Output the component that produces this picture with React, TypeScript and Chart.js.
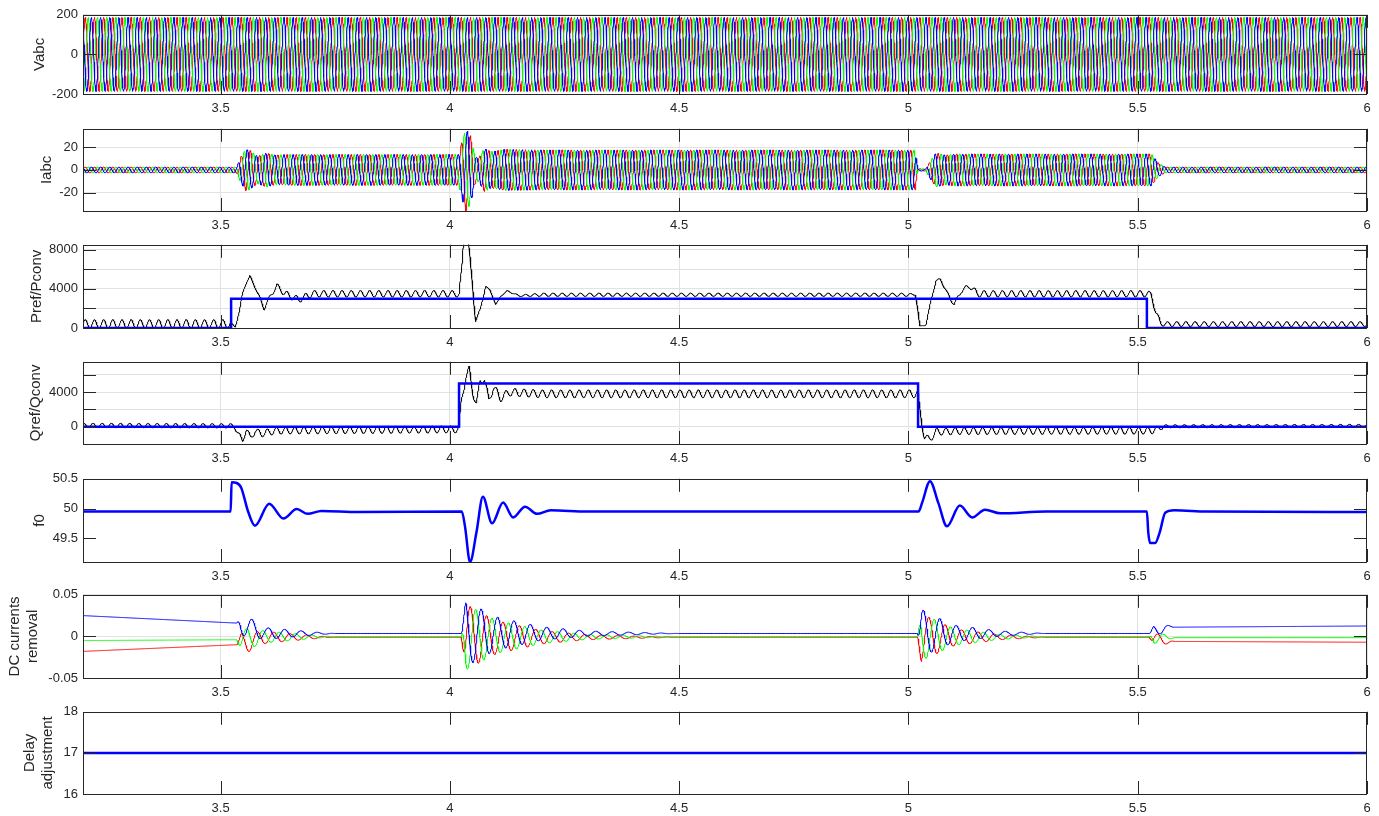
import React, { useEffect, useRef } from 'react';
import { Chart, registerables } from 'chart.js';
Chart.register(...registerables);

// ---------- axis / layout constants ----------
const T_START = 3.2;
const T_END = 6;
const DT = 0.0005;
const GRID_FREQ = 50;
const DC_OSC_FREQ = 28;
const xTickValues = [3.5, 4, 4.5, 5, 5.5, 6];

// ---------- data ----------
// Vabc envelope
const vabcEnvT = [3.2, 6];
const vabcEnvA = [187, 187];

// Iabc envelope
const iabcEnvT = [3.2, 3.535, 3.545, 3.555, 3.565, 3.58, 3.6, 3.62, 3.65, 4.02, 4.026, 4.035, 4.045, 4.055, 4.062, 4.075, 4.09, 4.12, 4.2, 5.015, 5.02, 5.038, 5.048, 5.06, 5.08, 5.1, 5.53, 5.545, 5.56, 6];
const iabcEnvA = [2.5, 2.5, 12, 18, 17, 12, 15, 13, 13.5, 13.5, 25, 36, 30, 12, 10, 19, 16, 18, 17.5, 17.5, 1, 1, 8, 15, 13, 14, 14, 6, 2.5, 2.5];

// Pref (step) and Pconv
const prefT = [3.2, 3.523, 3.523, 5.52, 5.52, 6];
const prefV = [0, 0, 3000, 3000, 0, 0];
const pconvT = [3.2, 3.52, 3.525, 3.532, 3.54, 3.548, 3.556, 3.564, 3.575, 3.595, 3.61, 3.623, 3.638, 3.65, 3.67, 3.7, 4.02, 4.026, 4.03, 4.04, 4.048, 4.056, 4.066, 4.078, 4.088, 4.1, 4.11, 4.125, 4.15, 4.2, 5.015, 5.02, 5.025, 5.038, 5.05, 5.06, 5.07, 5.085, 5.1, 5.115, 5.134, 5.15, 5.18, 5.52, 5.53, 5.54, 5.55, 5.56, 6];
const pconvV = [400, 400, 100, 200, 1500, 3600, 4600, 5300, 4200, 2000, 3400, 4300, 3600, 3300, 2900, 3500, 3500, 6000, 8800, 9000, 5000, 800, 1800, 4300, 3800, 2400, 3200, 3800, 3300, 3400, 3400, 2000, 200, 300, 3000, 4800, 5000, 3500, 2400, 3800, 4300, 3500, 3500, 3500, 3400, 1500, 500, 400, 400];
const pconvRipT = [3.2, 3.52, 3.54, 3.65, 4.02, 4.1, 4.2, 5.0, 5.02, 5.15, 5.52, 5.56, 6];
const pconvRipA = [450, 450, 0, 330, 330, 0, 170, 170, 0, 320, 320, 250, 250];

// Qref (step) and Qconv
const qrefT = [3.2, 4.02, 4.02, 5.021, 5.021, 6];
const qrefV = [0, 0, 5000, 5000, 0, 0];
const qconvT = [3.2, 3.53, 3.538, 3.548, 3.556, 3.565, 3.575, 3.59, 3.62, 4.02, 4.025, 4.035, 4.042, 4.05, 4.058, 4.066, 4.075, 4.085, 4.095, 4.11, 4.13, 4.2, 5.02, 5.026, 5.035, 5.045, 5.06, 5.1, 5.53, 5.56, 6];
const qconvV = [150, 100, -800, -1600, -300, -1300, -500, -800, -450, -300, 3000, 5800, 6600, 4000, 2600, 5200, 5600, 3000, 4600, 3300, 4000, 3800, 3800, 1500, -1200, -1500, -600, -500, -450, 50, 100];
const qconvRipT = [3.2, 3.53, 3.6, 4.02, 4.1, 5.02, 5.06, 5.53, 5.56, 6];
const qconvRipA = [250, 250, 400, 400, 450, 450, 400, 400, 180, 180];

// f0
const f0T = [3.2, 3.522, 3.524, 3.535, 3.545, 3.56, 3.575, 3.606, 3.637, 3.666, 3.69, 3.72, 3.8, 4.026, 4.033, 4.044, 4.058, 4.072, 4.092, 4.116, 4.138, 4.164, 4.19, 4.22, 4.3, 5.022, 5.03, 5.047, 5.065, 5.084, 5.112, 5.139, 5.167, 5.2, 5.3, 5.52, 5.523, 5.527, 5.538, 5.548, 5.56, 5.58, 5.65, 6];
const f0V = [49.95, 49.95, 50.44, 50.43, 50.35, 49.95, 49.71, 50.08, 49.83, 49.99, 49.91, 49.96, 49.94, 49.95, 49.7, 49.1, 49.6, 50.2, 49.75, 50.1, 49.85, 50.03, 49.91, 49.97, 49.95, 49.95, 50.1, 50.46, 50.1, 49.7, 50.05, 49.85, 49.98, 49.92, 49.95, 49.95, 49.6, 49.42, 49.42, 49.6, 49.93, 49.97, 49.95, 49.94];

// DC currents removal
const dcBaseT = [3.2, 3.535, 3.6, 5.53, 5.56, 6];
const dcRedV = [-0.018, -0.010, -0.001, -0.001, -0.006, -0.007];
const dcGreenV = [-0.005, -0.004, -0.0005, -0.0005, -0.0015, -0.0015];
const dcBlueV = [0.025, 0.016, 0.0035, 0.0035, 0.011, 0.0125];
const dcOscT = [3.2, 3.535, 3.545, 3.56, 3.6, 3.7, 3.75, 4.025, 4.035, 4.05, 4.1, 4.2, 4.3, 4.5, 5.02, 5.028, 5.04, 5.1, 5.2, 5.3, 5.525, 5.535, 5.545, 5.58, 6];
const dcOscA = [0, 0, 0.012, 0.012, 0.007, 0.002, 0, 0, 0.04, 0.035, 0.02, 0.008, 0.003, 0, 0, 0.03, 0.025, 0.01, 0.003, 0, 0, 0.008, 0.006, 0, 0];

// Delay adjustment
const delayT = [3.2, 6];
const delayV = [17, 17];

// ---------- styling ----------
const FONT = '"Liberation Sans", Arial, Helvetica, sans-serif';
const AXIS_COLOR = '#262626';
const GRID_COLOR = '#e2e2e2';
const RED = '#ff0000';
const GREEN = '#00ff00';
const BLUE = '#0000ff';
const PAD_T = 12;
const XAX_H = 28;
const Y_W = 83;
const TICK_LEN = 13;

type Pt = { x: number; y: number };

function interp(ts: number[], vs: number[], t: number): number {
  if (t <= ts[0]) return vs[0];
  for (let i = 1; i < ts.length; i++) {
    if (t <= ts[i]) {
      const span = ts[i] - ts[i - 1];
      if (span <= 0) return vs[i];
      const f = (t - ts[i - 1]) / span;
      return vs[i - 1] + f * (vs[i] - vs[i - 1]);
    }
  }
  return vs[vs.length - 1];
}

const times: number[] = [];
for (let i = 0; T_START + i * DT <= T_END + 1e-9; i++) times.push(T_START + i * DT);

const PHASES = [0, (-2 * Math.PI) / 3, (2 * Math.PI) / 3];

function carrierSeries(baseT: number[], baseV: number[], ampT: number[], ampA: number[], freq: number, phase: number): Pt[] {
  return times.map((t) => ({
    x: t,
    y: interp(baseT, baseV, t) + interp(ampT, ampA, t) * Math.sin(2 * Math.PI * freq * t + phase),
  }));
}

function keySeries(ts: number[], vs: number[]): Pt[] {
  return ts.map((t, i) => ({ x: t, y: vs[i] }));
}

const zeroT = [3.2, 6];
const zeroV = [0, 0];

function line(data: Pt[], color: string, width: number, extra: any = {}) {
  return { data, borderColor: color, backgroundColor: color, borderWidth: width, pointRadius: 0, fill: false, tension: 0, ...extra };
}

type Panel = {
  top: number;
  bottom: number;
  yMin: number;
  yMax: number;
  yTicks: number[];
  yLabels: number[];
  title: string | string[];
  titlePad: number;
  grid: boolean;
  datasets: any[];
};

function buildPanels(): Panel[] {
  return [
    {
      top: 14, bottom: 94, yMin: -200, yMax: 200, yTicks: [-200, 0, 200], yLabels: [-200, 0, 200],
      title: 'Vabc', titlePad: 31, grid: true,
      datasets: [
        line(carrierSeries(zeroT, zeroV, vabcEnvT, vabcEnvA, GRID_FREQ, PHASES[2]), BLUE, 1),
        line(carrierSeries(zeroT, zeroV, vabcEnvT, vabcEnvA, GRID_FREQ, PHASES[1]), GREEN, 1),
        line(carrierSeries(zeroT, zeroV, vabcEnvT, vabcEnvA, GRID_FREQ, PHASES[0]), RED, 1),
      ],
    },
    {
      top: 128, bottom: 211, yMin: -36, yMax: 36, yTicks: [-20, 0, 20], yLabels: [-20, 0, 20],
      title: 'Iabc', titlePad: 38, grid: true,
      datasets: [
        line(carrierSeries(zeroT, zeroV, iabcEnvT, iabcEnvA, GRID_FREQ, PHASES[2]), BLUE, 1),
        line(carrierSeries(zeroT, zeroV, iabcEnvT, iabcEnvA, GRID_FREQ, PHASES[1]), GREEN, 1),
        line(carrierSeries(zeroT, zeroV, iabcEnvT, iabcEnvA, GRID_FREQ, PHASES[0]), RED, 1),
      ],
    },
    {
      top: 244, bottom: 328, yMin: 0, yMax: 8500, yTicks: [0, 2000, 4000, 6000, 8000], yLabels: [0, 4000, 8000],
      title: 'Pref/Pconv', titlePad: 28, grid: true,
      datasets: [
        line(keySeries(prefT, prefV), BLUE, 2.5),
        line(carrierSeries(pconvT, pconvV, pconvRipT, pconvRipA, GRID_FREQ, 0), '#000000', 1),
      ],
    },
    {
      top: 361, bottom: 444, yMin: -2000, yMax: 7500, yTicks: [-2000, 0, 2000, 4000, 6000], yLabels: [0, 4000],
      title: 'Qref/Qconv', titlePad: 27, grid: true,
      datasets: [
        line(keySeries(qrefT, qrefV), BLUE, 2.5),
        line(carrierSeries(qconvT, qconvV, qconvRipT, qconvRipA, GRID_FREQ, 1), '#000000', 1),
      ],
    },
    {
      top: 478, bottom: 562, yMin: 49.1, yMax: 50.5, yTicks: [49.5, 50, 50.5], yLabels: [49.5, 50, 50.5],
      title: 'f0', titlePad: 31, grid: false,
      datasets: [line(keySeries(f0T, f0V), BLUE, 2.5, { cubicInterpolationMode: 'monotone' })],
    },
    {
      top: 594, bottom: 678, yMin: -0.05, yMax: 0.05, yTicks: [-0.05, 0, 0.05], yLabels: [-0.05, 0, 0.05],
      title: ['DC currents', 'removal'], titlePad: 6, grid: true,
      datasets: [
        line(carrierSeries(dcBaseT, dcBlueV, dcOscT, dcOscA, DC_OSC_FREQ, PHASES[2]), BLUE, 1),
        line(carrierSeries(dcBaseT, dcGreenV, dcOscT, dcOscA, DC_OSC_FREQ, PHASES[1]), GREEN, 1),
        line(carrierSeries(dcBaseT, dcRedV, dcOscT, dcOscA, DC_OSC_FREQ, PHASES[0]), RED, 1),
      ],
    },
    {
      top: 711, bottom: 794, yMin: 16, yMax: 18, yTicks: [16, 17, 18], yLabels: [16, 17, 18],
      title: ['Delay', 'adjustment'], titlePad: 21, grid: false,
      datasets: [line(keySeries(delayT, delayV), BLUE, 2.5)],
    },
  ];
}

const frame = {
  id: 'matlabFrame',
  afterDatasetsDraw(chart: any) {
    const { ctx, chartArea: a } = chart;
    const xs = chart.scales.x;
    const ys = chart.scales.y;
    ctx.save();
    ctx.strokeStyle = AXIS_COLOR;
    ctx.lineWidth = 1;
    ctx.beginPath();
    for (const t of xs.ticks) {
      const p = Math.round(xs.getPixelForValue(t.value)) + 0.5;
      ctx.moveTo(p, a.top);
      ctx.lineTo(p, a.top + TICK_LEN);
      ctx.moveTo(p, a.bottom);
      ctx.lineTo(p, a.bottom - TICK_LEN);
    }
    for (const t of ys.ticks) {
      const p = Math.round(ys.getPixelForValue(t.value)) + 0.5;
      ctx.moveTo(a.left, p);
      ctx.lineTo(a.left + TICK_LEN, p);
      ctx.moveTo(a.right, p);
      ctx.lineTo(a.right - TICK_LEN, p);
    }
    ctx.stroke();
    ctx.strokeRect(Math.round(a.left) + 0.5, Math.round(a.top) + 0.5, Math.round(a.right - a.left) - 1, Math.round(a.bottom - a.top));
    ctx.restore();
  },
};

function fmt(v: number): string {
  return String(Number(v.toFixed(4)));
}

function buildConfig(p: Panel): any {
  return {
    type: 'line',
    data: { datasets: p.datasets },
    plugins: [frame],
    options: {
      animation: false,
      responsive: false,
      maintainAspectRatio: false,
      events: [],
      parsing: false,
      normalized: true,
      layout: { padding: { top: PAD_T, right: 12, left: 0, bottom: 0 } },
      plugins: { legend: { display: false }, tooltip: { enabled: false }, title: { display: false } },
      scales: {
        x: {
          type: 'linear',
          min: T_START,
          max: T_END,
          afterBuildTicks: (s: any) => { s.ticks = xTickValues.map((v) => ({ value: v })); },
          afterFit: (s: any) => { s.height = XAX_H; },
          grid: { display: p.grid, color: GRID_COLOR, drawTicks: false, lineWidth: 1 },
          border: { display: false },
          ticks: {
            autoSkip: false,
            maxRotation: 0,
            padding: 7,
            color: AXIS_COLOR,
            font: { family: FONT, size: 13 },
            callback: (v: number) => fmt(v),
          },
        },
        y: {
          type: 'linear',
          min: p.yMin,
          max: p.yMax,
          afterBuildTicks: (s: any) => { s.ticks = p.yTicks.map((v) => ({ value: v })); },
          afterFit: (s: any) => { s.width = Y_W; },
          grid: { display: p.grid, color: GRID_COLOR, drawTicks: false, lineWidth: 1 },
          border: { display: false },
          ticks: {
            autoSkip: false,
            padding: 5,
            color: AXIS_COLOR,
            font: { family: FONT, size: 13 },
            callback: (v: number) => (p.yLabels.some((l) => Math.abs(l - v) < 1e-9) ? fmt(v) : ''),
          },
          title: {
            display: true,
            text: p.title,
            color: AXIS_COLOR,
            font: { family: FONT, size: 15, lineHeight: 1.2 },
            padding: { top: p.titlePad, bottom: 0 },
          },
        },
      },
    },
  };
}

const PANELS = buildPanels();

export default function App() {
  const refs = useRef<(HTMLCanvasElement | null)[]>([]);
  useEffect(() => {
    const charts = PANELS.map((p, i) => new Chart(refs.current[i] as HTMLCanvasElement, buildConfig(p)));
    return () => {
      charts.forEach((c) => c.destroy());
    };
  }, []);
  return (
    <div style={{ position: 'absolute', left: 0, top: 0, width: 1379, height: 816, background: '#ffffff', overflow: 'hidden' }}>
      {PANELS.map((p, i) => {
        const h = p.bottom - p.top + PAD_T + XAX_H;
        return (
          <canvas
            key={i}
            ref={(el) => {
              refs.current[i] = el;
            }}
            width={1379}
            height={h}
            style={{ position: 'absolute', left: 0, top: p.top - PAD_T, width: 1379, height: h, display: 'block' }}
          />
        );
      })}
    </div>
  );
}
